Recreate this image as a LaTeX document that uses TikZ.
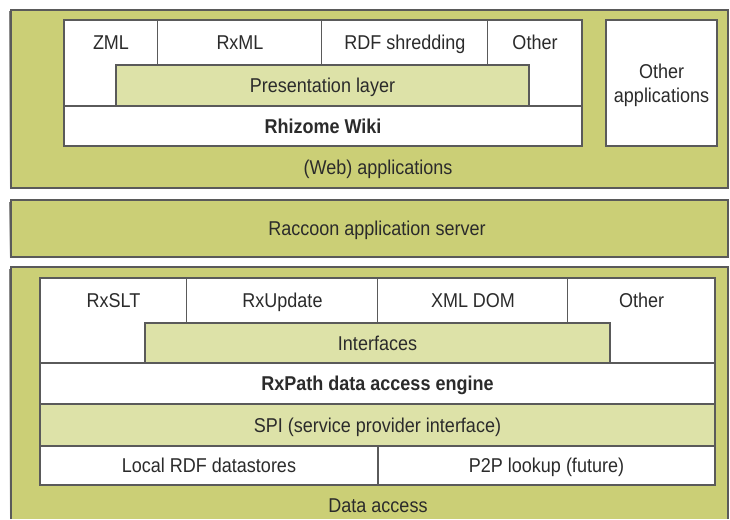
\documentclass[tikz,border=0pt]{standalone}
\usepackage{fontspec}
\setmainfont{Liberation Sans}[FakeStretch=0.9]
\usetikzlibrary{fit}
\definecolor{olive}{HTML}{CBCF76}
\definecolor{lightolive}{HTML}{DDE2A8}
\definecolor{edge}{HTML}{5A5A5A}
\definecolor{shade}{HTML}{8A8A80}
\definecolor{ink}{HTML}{2B2B2B}
\begin{document}
\begin{tikzpicture}[x=1pt,y=-1pt,
  font=\fontsize{20}{25}\selectfont, text=ink,
  panel/.style={draw=edge, line width=1.6pt, fill=olive, inner sep=0pt},
  whitebox/.style={draw=edge, line width=1.3pt, fill=white, inner sep=0pt},
  lightbox/.style={draw=edge, line width=1.3pt, fill=lightolive, inner sep=0pt},
  cell/.style={inner sep=0pt},
  divider/.style={draw=edge, line width=1.3pt},
  lbl/.style={inner sep=0pt, text height=14.5pt, text depth=0pt},
  blbl/.style={lbl, font=\fontsize{20}{25}\selectfont\bfseries}]
\useasboundingbox (0,0) rectangle (730,519);
\fill[white] (0,0) rectangle (730,519);
% shadows
\fill[shade] (9,12) rectangle (726,190);
\fill[shade] (9,202) rectangle (726,259);
\fill[shade] (9,269) rectangle (726,519);
% panels
\node[panel, fit={(11,10)(728,188)}] (webpanel) {};
\node[panel, fit={(11,200)(728,257)}] (serverpanel) {};
\fill[olive] (11,267) rectangle (728,519);
\coordinate (dal) at (11,519);
\coordinate (dar) at (728,519);
\coordinate (dtl) at (11,267);
\coordinate (dtr) at (728,267);
\draw[edge, line width=1.6pt] (dal) -- (dtl) -- (dtr) -- (dar);
% panel labels
\node[lbl] (weblbl) at (378,167) {(Web) applications};
\node[lbl] (serverlbl) at (377,228) {Raccoon application server};
\node[lbl] (datalbl) at (378,505) {Data access};
% ---- web applications
\node[whitebox, fit={(64,20)(582,106)}] (appsbox) {};
\node[cell, fit={(64,20)(158,65)}] (zml) {};
\node[cell, fit={(158,20)(322,65)}] (rxml) {};
\node[cell, fit={(322,20)(488,65)}] (rdf) {};
\node[cell, fit={(488,20)(582,65)}] (othera) {};
\draw[divider] (rxml.north west) -- (rxml.south west);
\draw[divider] (rdf.north west) -- (rdf.south west);
\draw[divider] (othera.north west) -- (othera.south west);
\node[lbl] (zmllbl) at (zml.center) {ZML};
\node[lbl] (rxmllbl) at (rxml.center) {RxML};
\node[lbl] (rdflbl) at (rdf.center) {RDF shredding};
\node[lbl] (otheralbl) at (othera.center) {Other};
\node[lightbox, fit={(116,65)(529,106)}] (pres) {};
\node[lbl] (preslbl) at (pres.center) {Presentation layer};
\node[whitebox, fit={(64,106)(582,146)}] (wiki) {};
\node[blbl] (wikilbl) at (wiki.center) {Rhizome Wiki};
\node[whitebox, fit={(606,20)(717,146)}] (otherapps) {};
\node[inner sep=0pt, align=center, font=\fontsize{20}{24}\selectfont] (otherappslbl) at ([yshift=-2pt]otherapps.center) {Other\\applications};
% ---- data access
\node[whitebox, fit={(40,278)(715,363)}] (ifbox) {};
\node[cell, fit={(40,278)(187,323)}] (rxslt) {};
\node[cell, fit={(187,278)(378,323)}] (rxupd) {};
\node[cell, fit={(378,278)(568,323)}] (xmldom) {};
\node[cell, fit={(568,278)(715,323)}] (otherb) {};
\draw[divider] (rxupd.north west) -- (rxupd.south west);
\draw[divider] (xmldom.north west) -- (xmldom.south west);
\draw[divider] (otherb.north west) -- (otherb.south west);
\node[lbl] (rxsltlbl) at (rxslt.center) {RxSLT};
\node[lbl] (rxupdlbl) at (rxupd.center) {RxUpdate};
\node[lbl] (xmldomlbl) at (xmldom.center) {XML DOM};
\node[lbl] (otherblbl) at (otherb.center) {Other};
\node[lightbox, fit={(145,323)(610,363)}] (interfaces) {};
\node[lbl] (interfaceslbl) at (interfaces.center) {Interfaces};
\node[whitebox, fit={(40,363)(715,404)}] (rxpath) {};
\node[blbl] (rxpathlbl) at (rxpath.center) {RxPath data access engine};
\node[lightbox, fit={(40,404)(715,446)}] (spi) {};
\node[lbl] (spilbl) at (spi.center) {SPI (service provider interface)};
\node[whitebox, fit={(40,446)(378,485)}] (local) {};
\node[lbl] (locallbl) at (local.center) {Local RDF datastores};
\node[whitebox, fit={(378,446)(715,485)}] (p2p) {};
\node[lbl] (p2plbl) at (p2p.center) {P2P lookup (future)};
\end{tikzpicture}
\end{document}
